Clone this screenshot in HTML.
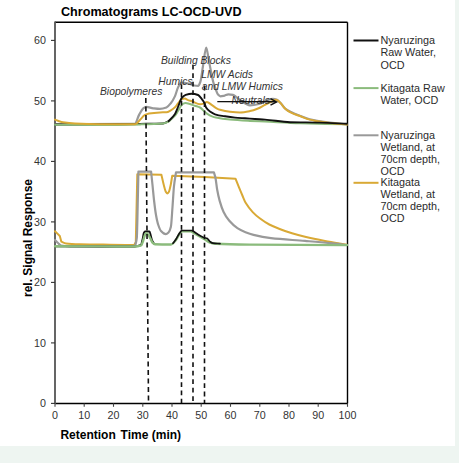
<!DOCTYPE html>
<html><head><meta charset="utf-8"><style>
html,body{margin:0;padding:0;background:#eef5f1;}
body{width:459px;height:463px;overflow:hidden;position:relative;}
.card{position:absolute;left:0;top:0;width:455px;height:446px;background:#fff;}
svg{position:absolute;left:0;top:0;}
text{font-family:"Liberation Sans",sans-serif;}
.ax{font-size:10.7px;fill:#333;}
.lg{font-size:10.8px;fill:#2b2b2b;}
.lb{font-size:10.3px;fill:#333;font-style:italic;}
.tt{font-size:12.6px;font-weight:bold;fill:#000;}
.at{font-size:12px;font-weight:bold;fill:#000;}
</style></head><body>
<div class="card"></div>
<svg width="459" height="463" viewBox="0 0 459 463">
<text x="61" y="15.6" class="tt">Chromatograms LC-OCD-UVD</text>
<line x1="55" y1="22.3" x2="347.5" y2="22.3" stroke="#000" stroke-width="1.4"/>
<line x1="347.5" y1="22.3" x2="347.5" y2="403.4" stroke="#000" stroke-width="1.4"/>
<line x1="55" y1="403.4" x2="348" y2="403.4" stroke="#000" stroke-width="1.5"/>
<line x1="55" y1="21.6" x2="55" y2="404" stroke="#555" stroke-width="1.8"/>
<line x1="51" y1="403.4" x2="55" y2="403.4" stroke="#333" stroke-width="1.1"/>
<text x="46" y="407.0" text-anchor="end" class="ax">0</text>
<line x1="51" y1="342.9" x2="55" y2="342.9" stroke="#333" stroke-width="1.1"/>
<text x="46" y="346.5" text-anchor="end" class="ax">10</text>
<line x1="51" y1="282.4" x2="55" y2="282.4" stroke="#333" stroke-width="1.1"/>
<text x="46" y="286.0" text-anchor="end" class="ax">20</text>
<line x1="51" y1="221.9" x2="55" y2="221.9" stroke="#333" stroke-width="1.1"/>
<text x="46" y="225.5" text-anchor="end" class="ax">30</text>
<line x1="51" y1="161.4" x2="55" y2="161.4" stroke="#333" stroke-width="1.1"/>
<text x="46" y="165.0" text-anchor="end" class="ax">40</text>
<line x1="51" y1="100.9" x2="55" y2="100.9" stroke="#333" stroke-width="1.1"/>
<text x="46" y="104.5" text-anchor="end" class="ax">50</text>
<line x1="51" y1="40.4" x2="55" y2="40.4" stroke="#333" stroke-width="1.1"/>
<text x="46" y="44.0" text-anchor="end" class="ax">60</text>
<line x1="55.0" y1="403.4" x2="55.0" y2="406.8" stroke="#444" stroke-width="1.1"/>
<text x="55.0" y="418.5" text-anchor="middle" class="ax">0</text>
<line x1="84.2" y1="403.4" x2="84.2" y2="406.8" stroke="#444" stroke-width="1.1"/>
<text x="84.2" y="418.5" text-anchor="middle" class="ax">10</text>
<line x1="113.5" y1="403.4" x2="113.5" y2="406.8" stroke="#444" stroke-width="1.1"/>
<text x="113.5" y="418.5" text-anchor="middle" class="ax">20</text>
<line x1="142.8" y1="403.4" x2="142.8" y2="406.8" stroke="#444" stroke-width="1.1"/>
<text x="142.8" y="418.5" text-anchor="middle" class="ax">30</text>
<line x1="172.0" y1="403.4" x2="172.0" y2="406.8" stroke="#444" stroke-width="1.1"/>
<text x="172.0" y="418.5" text-anchor="middle" class="ax">40</text>
<line x1="201.2" y1="403.4" x2="201.2" y2="406.8" stroke="#444" stroke-width="1.1"/>
<text x="201.2" y="418.5" text-anchor="middle" class="ax">50</text>
<line x1="230.5" y1="403.4" x2="230.5" y2="406.8" stroke="#444" stroke-width="1.1"/>
<text x="230.5" y="418.5" text-anchor="middle" class="ax">60</text>
<line x1="259.8" y1="403.4" x2="259.8" y2="406.8" stroke="#444" stroke-width="1.1"/>
<text x="259.8" y="418.5" text-anchor="middle" class="ax">70</text>
<line x1="289.0" y1="403.4" x2="289.0" y2="406.8" stroke="#444" stroke-width="1.1"/>
<text x="289.0" y="418.5" text-anchor="middle" class="ax">80</text>
<line x1="318.2" y1="403.4" x2="318.2" y2="406.8" stroke="#444" stroke-width="1.1"/>
<text x="318.2" y="418.5" text-anchor="middle" class="ax">90</text>
<line x1="347.5" y1="403.4" x2="347.5" y2="406.8" stroke="#444" stroke-width="1.1"/>
<text x="347.5" y="418.5" text-anchor="middle" class="ax">100</text>

<path d="M55.00 231.30 C56.60 232.87 58.20 234.43 59.80 236.00 C60.30 237.87 60.80 239.73 61.30 241.60 C62.87 242.20 64.43 243.22 66.00 243.40 C70.67 243.93 75.33 244.07 80.00 244.20 C90.00 244.48 100.00 244.56 110.00 244.70 C118.10 244.81 126.20 244.90 134.30 245.00 C134.80 244.00 135.30 243.00 135.80 242.00 C136.30 219.43 136.80 196.87 137.30 174.30 C145.33 174.47 153.37 174.63 161.40 174.80 C162.20 178.20 163.00 182.09 163.80 185.00 C164.53 187.66 165.27 190.87 166.00 192.00 C166.43 192.67 166.87 193.40 167.30 193.40 C167.80 193.40 168.30 192.73 168.80 192.00 C169.43 191.08 170.07 187.94 170.70 185.00 C171.20 182.68 171.70 178.87 172.20 175.80 C183.13 176.23 194.07 176.61 205.00 177.10 C215.17 177.56 225.33 178.17 235.50 178.70 C236.63 181.53 237.77 184.44 238.90 187.20 C240.07 190.04 241.23 192.82 242.40 195.50 C243.53 198.11 244.67 201.18 245.80 203.10 C248.10 207.01 250.40 209.67 252.70 212.10 C255.03 214.56 257.37 216.54 259.70 218.30 C262.90 220.71 266.10 222.84 269.30 224.50 C272.53 226.18 275.77 227.43 279.00 228.70 C283.33 230.40 287.67 231.97 292.00 233.30 C296.33 234.63 300.67 235.77 305.00 236.80 C311.67 238.39 318.33 239.73 325.00 241.00 C332.33 242.39 339.67 243.53 347.00 244.80" fill="none" stroke="#d9a935" stroke-width="2.0" stroke-linejoin="round" stroke-linecap="round"/>
<path d="M55.00 240.00 C56.00 241.00 57.00 242.09 58.00 243.00 C59.00 243.91 60.00 245.31 61.00 245.50 C64.00 246.06 67.00 246.30 70.00 246.30 C91.67 246.30 113.33 246.30 135.00 246.30 C135.60 243.53 136.20 243.33 136.80 238.00 C137.13 235.04 137.47 214.16 137.80 200.00 C138.00 191.51 138.20 181.13 138.40 171.70 C142.63 171.70 146.87 171.70 151.10 171.70 C151.57 176.13 152.03 180.45 152.50 185.00 C153.00 189.87 153.50 195.68 154.00 200.00 C154.67 205.75 155.33 211.31 156.00 215.00 C156.77 219.25 157.53 222.73 158.30 225.00 C159.20 227.67 160.10 230.01 161.00 231.00 C162.57 232.72 164.13 234.20 165.70 234.20 C166.63 234.20 167.57 233.42 168.50 232.50 C169.30 231.71 170.10 230.08 170.90 226.70 C171.43 224.44 171.97 213.99 172.50 207.00 C173.00 200.44 173.50 190.68 174.00 186.00 C174.67 179.77 175.33 176.87 176.00 172.30 C188.63 172.30 201.27 172.30 213.90 172.30 C214.43 174.20 214.97 175.47 215.50 178.00 C216.03 180.53 216.57 186.31 217.10 189.30 C217.93 193.97 218.77 197.65 219.60 200.60 C220.93 205.32 222.27 209.17 223.60 211.90 C225.50 215.79 227.40 218.59 229.30 220.80 C232.00 223.93 234.70 226.35 237.40 228.10 C240.10 229.85 242.80 231.11 245.50 232.20 C248.17 233.28 250.83 234.23 253.50 234.90 C259.33 236.36 265.17 237.52 271.00 238.20 C282.33 239.52 293.67 239.95 305.00 240.90 C313.33 241.60 321.67 242.27 330.00 243.10 C335.67 243.66 341.33 244.37 347.00 245.00" fill="none" stroke="#999999" stroke-width="2.2" stroke-linejoin="round" stroke-linecap="round"/>
<path d="M55.00 246.30 C70.00 246.33 85.00 246.36 100.00 246.40 C111.33 246.43 122.67 246.50 134.00 246.50 C136.40 246.50 138.80 245.50 141.20 245.00" fill="none" stroke="#111111" stroke-width="2.0" stroke-linejoin="round" stroke-linecap="round"/>
<path d="M141.20 245.00 C141.67 243.00 142.13 241.16 142.60 239.00 C143.00 237.15 143.40 233.80 143.80 233.00 C144.20 232.20 144.60 231.50 145.00 231.50 C146.50 231.50 148.00 231.50 149.50 231.50 C149.93 231.50 150.37 234.03 150.80 235.50 C151.20 236.85 151.60 239.02 152.00 240.00 C152.67 241.64 153.33 242.33 154.00 243.50" fill="none" stroke="#111111" stroke-width="1.8" stroke-linejoin="round" stroke-linecap="round"/>
<path d="M55.00 246.30 C70.00 246.33 85.00 246.36 100.00 246.40 C111.33 246.43 122.67 246.50 134.00 246.50 C136.40 246.50 138.80 246.23 141.20 245.40 C141.87 245.17 142.53 242.35 143.20 240.50 C143.80 238.84 144.40 235.74 145.00 234.80 C145.50 234.01 146.00 233.20 146.50 233.20 C147.10 233.20 147.70 234.09 148.30 234.80 C149.03 235.67 149.77 237.44 150.50 238.80 C151.17 240.04 151.83 241.92 152.50 242.60 C153.33 243.45 154.17 244.27 155.00 244.30 C160.33 244.47 165.67 244.50 171.00 244.50 C172.70 244.50 174.40 241.89 176.10 239.80 C177.27 238.37 178.43 235.20 179.60 233.70 C180.40 232.67 181.20 232.03 182.00 231.20 C185.00 231.20 188.00 231.20 191.00 231.20 C195.53 233.90 200.07 236.61 204.60 239.30 C206.40 240.37 208.20 241.92 210.00 242.50 C212.00 243.14 214.00 243.70 216.00 243.80 C227.33 244.39 238.67 244.49 250.00 244.60 C282.33 244.90 314.67 244.93 347.00 245.10" fill="none" stroke="#8bbb7c" stroke-width="2.4" stroke-linejoin="round" stroke-linecap="round"/>
<path d="M173.00 243.30 C174.03 241.87 175.07 240.58 176.10 239.00 C177.27 237.21 178.43 234.66 179.60 233.00 C180.27 232.05 180.93 231.33 181.60 230.50 C185.07 230.50 188.53 230.50 192.00 230.50 C196.20 232.93 200.40 236.64 204.60 237.80 C205.40 238.02 206.20 238.03 207.00 238.30 C208.00 238.64 209.00 240.88 210.00 241.60 C211.00 242.32 212.00 243.08 213.00 243.20 C215.33 243.47 217.67 243.47 220.00 243.60" fill="none" stroke="#111111" stroke-width="1.7" stroke-linejoin="round" stroke-linecap="round"/>
<path d="M55.00 124.20 C81.60 124.10 108.20 124.18 134.80 123.90 C136.27 123.88 137.73 117.24 139.20 114.60 C140.47 112.32 141.73 109.64 143.00 108.60 C144.07 107.73 145.13 106.80 146.20 106.80 C148.57 106.80 150.93 108.00 153.30 108.30 C155.50 108.58 157.70 108.90 159.90 108.90 C162.07 108.90 164.23 108.30 166.40 107.50 C167.87 106.96 169.33 105.02 170.80 103.20 C172.20 101.46 173.60 99.12 175.00 96.10 C176.00 93.94 177.00 89.37 178.00 87.50 C179.17 85.32 180.33 82.70 181.50 82.70 C183.93 82.70 186.37 83.14 188.80 83.60 C190.53 83.93 192.27 85.24 194.00 85.50 C195.37 85.71 196.73 85.90 198.10 85.90 C198.83 85.90 199.57 83.97 200.30 82.00 C201.20 79.59 202.10 71.27 203.00 66.00 C204.07 59.75 205.13 47.50 206.20 47.50 C207.00 47.50 207.80 55.02 208.60 59.00 C209.50 63.48 210.40 68.68 211.30 73.00 C212.07 76.68 212.83 80.66 213.60 83.30 C214.40 86.06 215.20 88.01 216.00 90.00 C216.67 91.66 217.33 93.76 218.00 94.50 C218.83 95.43 219.67 96.30 220.50 96.30 C221.67 96.30 222.83 96.03 224.00 95.80 C225.47 95.51 226.93 94.30 228.40 94.30 C229.93 94.30 231.47 94.55 233.00 94.90 C234.00 95.13 235.00 96.10 236.00 96.80 C237.67 97.97 239.33 99.75 241.00 100.80 C244.00 102.69 247.00 105.30 250.00 105.30 C253.00 105.30 256.00 104.67 259.00 104.00 C261.67 103.40 264.33 101.02 267.00 100.20 C269.00 99.58 271.00 98.80 273.00 98.80 C274.33 98.80 275.67 99.28 277.00 99.80 C278.33 100.32 279.67 102.12 281.00 103.50 C282.50 105.05 284.00 107.62 285.50 108.80 C287.33 110.24 289.17 111.09 291.00 112.00 C294.17 113.57 297.33 114.77 300.50 116.00 C303.53 117.18 306.57 118.52 309.60 119.30 C311.73 119.85 313.87 120.23 316.00 120.60 C320.67 121.40 325.33 122.01 330.00 122.60 C335.67 123.31 341.33 123.87 347.00 124.50" fill="none" stroke="#999999" stroke-width="2.2" stroke-linejoin="round" stroke-linecap="round"/>
<path d="M55.00 124.60 C70.00 124.53 85.00 124.50 100.00 124.40 C113.33 124.31 126.67 124.10 140.00 123.90 C147.67 123.79 155.33 123.81 163.00 123.50 C164.87 123.42 166.73 121.97 168.60 121.20" fill="none" stroke="#111111" stroke-width="2.0" stroke-linejoin="round" stroke-linecap="round"/>
<path d="M55.00 124.80 C70.00 124.83 85.00 124.90 100.00 124.90 C113.33 124.90 126.67 124.66 140.00 124.40 C147.67 124.25 155.33 124.14 163.00 123.50 C164.87 123.35 166.73 122.64 168.60 121.70 C169.73 121.13 170.87 119.46 172.00 118.40 C173.00 117.47 174.00 116.84 175.00 115.70 C176.00 114.56 177.00 112.62 178.00 111.00 C179.00 109.38 180.00 107.27 181.00 106.00 C181.77 105.03 182.53 103.89 183.30 103.60 C184.00 103.33 184.70 103.10 185.40 103.10 C186.93 103.10 188.47 103.61 190.00 104.00 C191.67 104.42 193.33 105.22 195.00 105.80 C196.67 106.38 198.33 106.67 200.00 107.50 C201.33 108.16 202.67 109.84 204.00 111.00 C205.00 111.87 206.00 112.91 207.00 113.60 C208.67 114.75 210.33 115.76 212.00 116.40 C213.33 116.92 214.67 117.32 216.00 117.60 C220.67 118.57 225.33 119.17 230.00 119.60 C236.67 120.21 243.33 120.54 250.00 120.90 C255.00 121.17 260.00 121.36 265.00 121.60 C276.67 122.15 288.33 122.95 300.00 123.30 C315.67 123.77 331.33 123.97 347.00 124.30" fill="none" stroke="#8bbb7c" stroke-width="2.0" stroke-linejoin="round" stroke-linecap="round"/>
<path d="M55.00 119.60 C56.33 120.13 57.67 120.77 59.00 121.20 C60.33 121.63 61.67 122.08 63.00 122.30 C67.00 122.97 71.00 123.43 75.00 123.60 C83.33 123.95 91.67 124.20 100.00 124.20 C111.77 124.20 123.53 124.20 135.30 124.20 C136.97 124.20 138.63 121.12 140.30 119.50 C141.73 118.11 143.17 116.00 144.60 115.20 C146.07 114.38 147.53 113.75 149.00 113.50 C152.67 112.86 156.33 112.57 160.00 112.40 C162.13 112.30 164.27 112.33 166.40 112.20 C167.87 112.11 169.33 111.10 170.80 110.30 C172.20 109.54 173.60 108.51 175.00 107.20 C176.00 106.26 177.00 104.72 178.00 103.50 C179.27 101.95 180.53 99.18 181.80 98.90 C182.87 98.66 183.93 98.50 185.00 98.50 C185.83 98.50 186.67 99.56 187.50 99.90 C189.00 100.52 190.50 100.79 192.00 101.30 C194.67 102.20 197.33 104.30 200.00 104.30 C201.43 104.30 202.87 103.79 204.30 103.30 C205.13 103.02 205.97 101.90 206.80 101.90 C208.53 101.90 210.27 104.07 212.00 105.20 C213.53 106.20 215.07 107.49 216.60 108.30 C217.73 108.90 218.87 109.47 220.00 109.80 C223.33 110.78 226.67 111.49 230.00 111.80 C233.33 112.11 236.67 112.40 240.00 112.40 C243.33 112.40 246.67 111.73 250.00 111.10 C252.67 110.60 255.33 109.58 258.00 108.50 C260.33 107.56 262.67 105.97 265.00 104.80 C266.67 103.96 268.33 103.16 270.00 102.40 C272.00 101.49 274.00 99.80 276.00 99.80 C277.33 99.80 278.67 101.36 280.00 102.50 C281.67 103.93 283.33 106.97 285.00 108.50 C286.67 110.03 288.33 111.32 290.00 112.20 C293.50 114.06 297.00 114.99 300.50 116.30 C303.53 117.44 306.57 118.82 309.60 119.60 C311.73 120.15 313.87 120.53 316.00 120.90 C320.67 121.70 325.33 122.35 330.00 122.90 C335.67 123.57 341.33 124.03 347.00 124.60" fill="none" stroke="#d9a935" stroke-width="2.0" stroke-linejoin="round" stroke-linecap="round"/>
<path d="M168.60 121.20 C170.73 118.80 172.87 117.38 175.00 114.00 C176.00 112.42 177.00 109.37 178.00 107.00 C179.27 103.99 180.53 99.24 181.80 97.80 C183.10 96.32 184.40 95.33 185.70 94.90 C187.70 94.24 189.70 93.70 191.70 93.70 C193.83 93.70 195.97 94.21 198.10 95.00 C199.23 95.42 200.37 97.28 201.50 98.70 C202.43 99.87 203.37 101.01 204.30 102.80 C204.90 103.95 205.50 106.55 206.10 107.50 C207.40 109.56 208.70 110.66 210.00 111.60 C211.67 112.81 213.33 113.79 215.00 114.30 C218.33 115.33 221.67 115.77 225.00 116.30 C228.33 116.83 231.67 117.30 235.00 117.60 C238.33 117.90 241.67 118.07 245.00 118.30 C248.33 118.53 251.67 118.78 255.00 119.00 C258.33 119.22 261.67 119.36 265.00 119.60 C273.33 120.21 281.67 122.00 290.00 122.20 C300.00 122.44 310.00 122.39 320.00 122.60 C329.00 122.79 338.00 123.40 347.00 123.80" fill="none" stroke="#111111" stroke-width="1.9" stroke-linejoin="round" stroke-linecap="round"/>

<line x1="145.8" y1="98.0" x2="148.5" y2="400.6" stroke="#111" stroke-width="1.6" stroke-dasharray="5.00 3.50"/>
<line x1="181.5" y1="84.2" x2="181.5" y2="403.0" stroke="#111" stroke-width="1.6" stroke-dasharray="4.80 3.48"/>
<line x1="193.0" y1="64.8" x2="193.0" y2="401.0" stroke="#111" stroke-width="1.6" stroke-dasharray="4.80 3.70"/>
<line x1="204.5" y1="85.6" x2="204.5" y2="403.0" stroke="#111" stroke-width="1.6" stroke-dasharray="4.80 3.47"/>


<text x="100" y="94.5" class="lb">Biopolymeres</text>
<text x="158.3" y="85.1" class="lb">Humics</text>
<text x="161" y="63.5" class="lb">Building Blocks</text>
<text x="201.3" y="78.3" class="lb">LMW Acids</text>
<text x="201.7" y="89.6" class="lb">and LMW Humics</text>
<text x="231.6" y="103.8" class="lb">Neutrals</text>
<line x1="217.3" y1="101.6" x2="276" y2="101.8" stroke="#111" stroke-width="1.4"/>
<path d="M270.5 98.6 L276.6 101.9 L270.5 105.2" fill="none" stroke="#111" stroke-width="1.4"/>

<line x1="353.5" y1="40.5" x2="378.5" y2="40.5" stroke="#111111" stroke-width="2"/>
<text x="380.5" y="43.7" class="lg">Nyaruzinga</text>
<text x="380.5" y="56.1" class="lg">Raw Water,</text>
<text x="380.5" y="68.6" class="lg">OCD</text>
<line x1="353.5" y1="88.1" x2="378.5" y2="88.1" stroke="#8bbb7c" stroke-width="2"/>
<text x="380.5" y="91.7" class="lg">Kitagata Raw</text>
<text x="380.5" y="103.7" class="lg">Water, OCD</text>
<line x1="353.5" y1="135.3" x2="378.5" y2="135.3" stroke="#999999" stroke-width="2"/>
<text x="380.5" y="138.9" class="lg">Nyaruzinga</text>
<text x="380.5" y="150.8" class="lg">Wetland, at</text>
<text x="380.5" y="163.3" class="lg">70cm depth,</text>
<text x="380.5" y="175.2" class="lg">OCD</text>
<line x1="353.5" y1="182.8" x2="378.5" y2="182.8" stroke="#d9a935" stroke-width="2"/>
<text x="380.5" y="186.3" class="lg">Kitagata</text>
<text x="380.5" y="198.2" class="lg">Wetland, at</text>
<text x="380.5" y="210.3" class="lg">70cm depth,</text>
<text x="380.5" y="222.0" class="lg">OCD</text>

<text transform="translate(31.6,297) rotate(-90)" class="at">rel. Signal Response</text>
<text x="60.4" y="439.3" class="at">Retention</text><text x="120.6" y="439.3" class="at">Time (min)</text>
</svg>
</body></html>
